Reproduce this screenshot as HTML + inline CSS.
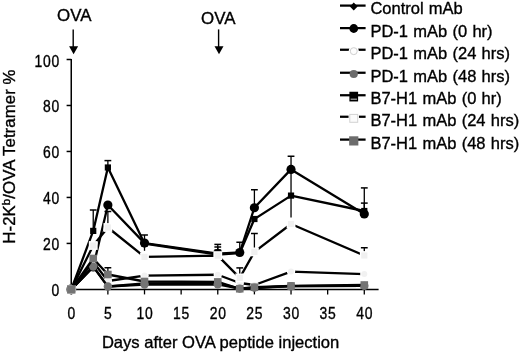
<!DOCTYPE html>
<html lang="en"><head><meta charset="utf-8"><title>H-2Kb/OVA Tetramer % after OVA peptide injection</title>
<style>html,body{margin:0;padding:0;background:#fff;}body{width:520px;height:355px;overflow:hidden;}svg{display:block;will-change:transform;}text{font-family:'Liberation Sans', sans-serif;fill:#000;stroke:#000;stroke-width:0.35px;}</style>
</head><body>
<svg width="520" height="355" viewBox="0 0 520 355" role="img" aria-label="Line chart of H-2Kb/OVA tetramer percent versus days after OVA peptide injection">
<rect x="0" y="0" width="520" height="355" fill="#ffffff"/>
<g id="axes" stroke="#000" stroke-width="1.5" fill="none">
<line x1="71.25" y1="58.9" x2="71.25" y2="290.15"/>
<line x1="70.50" y1="289.40" x2="378.6" y2="289.40"/>
<line x1="66.6" y1="289.40" x2="71.25" y2="289.40"/>
<line x1="66.6" y1="243.42" x2="71.25" y2="243.42"/>
<line x1="66.6" y1="197.44" x2="71.25" y2="197.44"/>
<line x1="66.6" y1="151.46" x2="71.25" y2="151.46"/>
<line x1="66.6" y1="105.48" x2="71.25" y2="105.48"/>
<line x1="66.6" y1="59.50" x2="71.25" y2="59.50"/>
<line x1="71.25" y1="289.40" x2="71.25" y2="294.4" stroke-width="1.3"/>
<line x1="107.88" y1="289.40" x2="107.88" y2="294.4" stroke-width="1.3"/>
<line x1="144.51" y1="289.40" x2="144.51" y2="294.4" stroke-width="1.3"/>
<line x1="181.14" y1="289.40" x2="181.14" y2="294.4" stroke-width="1.3"/>
<line x1="217.77" y1="289.40" x2="217.77" y2="294.4" stroke-width="1.3"/>
<line x1="254.40" y1="289.40" x2="254.40" y2="294.4" stroke-width="1.3"/>
<line x1="291.03" y1="289.40" x2="291.03" y2="294.4" stroke-width="1.3"/>
<line x1="327.66" y1="289.40" x2="327.66" y2="294.4" stroke-width="1.3"/>
<line x1="364.29" y1="289.40" x2="364.29" y2="294.4" stroke-width="1.3"/>
</g>
<g id="series">
<g class="s-ctrl">
<polyline fill="none" stroke="#000" stroke-width="2.30" stroke-linejoin="round" points="71.25,289.40 93.23,266.60 107.88,286.50 144.51,283.50 217.77,283.20 239.75,288.60 254.40,288.00 291.03,286.20 364.29,285.80"/>

<polygon points="71.25,285.50 75.15,289.40 71.25,293.30 67.35,289.40" fill="#000"/>
<polygon points="93.23,262.70 97.13,266.60 93.23,270.50 89.33,266.60" fill="#000"/>
<polygon points="107.88,282.60 111.78,286.50 107.88,290.40 103.98,286.50" fill="#000"/>
<polygon points="144.51,279.60 148.41,283.50 144.51,287.40 140.61,283.50" fill="#000"/>
<polygon points="217.77,279.30 221.67,283.20 217.77,287.10 213.87,283.20" fill="#000"/>
<polygon points="239.75,284.70 243.65,288.60 239.75,292.50 235.85,288.60" fill="#000"/>
<polygon points="254.40,284.10 258.30,288.00 254.40,291.90 250.50,288.00" fill="#000"/>
<polygon points="291.03,282.30 294.93,286.20 291.03,290.10 287.13,286.20" fill="#000"/>
<polygon points="364.29,281.90 368.19,285.80 364.29,289.70 360.39,285.80" fill="#000"/>
</g>
<g class="s-pd0">
<polyline fill="none" stroke="#000" stroke-width="2.30" stroke-linejoin="round" points="71.25,289.40 93.23,267.00 107.88,205.00 144.51,243.10 217.77,253.60 239.75,252.50 254.40,207.75 291.03,169.40 364.29,213.90"/>
<line x1="144.51" y1="235.00" x2="144.51" y2="250.80" stroke="#000" stroke-width="1.3"/><line x1="141.11" y1="235.00" x2="147.91" y2="235.00" stroke="#000" stroke-width="1.5"/><line x1="217.77" y1="247.00" x2="217.77" y2="253.60" stroke="#000" stroke-width="1.3"/><line x1="214.37" y1="247.00" x2="221.17" y2="247.00" stroke="#000" stroke-width="1.5"/><line x1="239.75" y1="242.25" x2="239.75" y2="252.50" stroke="#000" stroke-width="1.3"/><line x1="236.35" y1="242.25" x2="243.15" y2="242.25" stroke="#000" stroke-width="1.5"/><line x1="254.40" y1="189.75" x2="254.40" y2="207.75" stroke="#000" stroke-width="1.3"/><line x1="251.00" y1="189.75" x2="257.80" y2="189.75" stroke="#000" stroke-width="1.5"/><line x1="291.03" y1="156.25" x2="291.03" y2="169.40" stroke="#000" stroke-width="1.3"/><line x1="287.63" y1="156.25" x2="294.43" y2="156.25" stroke="#000" stroke-width="1.5"/><line x1="364.29" y1="187.90" x2="364.29" y2="213.90" stroke="#000" stroke-width="1.3"/><line x1="360.89" y1="187.90" x2="367.69" y2="187.90" stroke="#000" stroke-width="1.5"/>
<circle cx="71.25" cy="289.40" r="4.60" fill="#000"/>
<circle cx="93.23" cy="267.00" r="4.60" fill="#000"/>
<circle cx="107.88" cy="205.00" r="4.60" fill="#000"/>
<circle cx="144.51" cy="243.10" r="4.60" fill="#000"/>
<circle cx="217.77" cy="253.60" r="4.60" fill="#000"/>
<circle cx="239.75" cy="252.50" r="4.60" fill="#000"/>
<circle cx="254.40" cy="207.75" r="4.60" fill="#000"/>
<circle cx="291.03" cy="169.40" r="4.60" fill="#000"/>
<circle cx="364.29" cy="213.90" r="4.60" fill="#000"/>
</g>
<g class="s-pd24">
<polyline fill="none" stroke="#000" stroke-width="2.30" stroke-linejoin="round" points="71.25,289.40 93.23,262.00 107.88,281.00 144.51,275.60 217.77,274.75 239.75,283.00 254.40,285.00 291.03,271.60 364.29,274.10"/>

<circle cx="71.25" cy="289.40" r="4.20" fill="#fff"/><circle cx="71.25" cy="289.40" r="3.00" fill="#f1f1f1"/>
<circle cx="93.23" cy="262.00" r="4.20" fill="#fff"/><circle cx="93.23" cy="262.00" r="3.00" fill="#f1f1f1"/>
<circle cx="107.88" cy="281.00" r="4.20" fill="#fff"/><circle cx="107.88" cy="281.00" r="3.00" fill="#f1f1f1"/>
<circle cx="144.51" cy="275.60" r="4.20" fill="#fff"/><circle cx="144.51" cy="275.60" r="3.00" fill="#f1f1f1"/>
<circle cx="217.77" cy="274.75" r="4.20" fill="#fff"/><circle cx="217.77" cy="274.75" r="3.00" fill="#f1f1f1"/>
<circle cx="239.75" cy="283.00" r="4.20" fill="#fff"/><circle cx="239.75" cy="283.00" r="3.00" fill="#f1f1f1"/>
<circle cx="254.40" cy="285.00" r="4.20" fill="#fff"/><circle cx="254.40" cy="285.00" r="3.00" fill="#f1f1f1"/>
<circle cx="291.03" cy="271.60" r="4.20" fill="#fff"/><circle cx="291.03" cy="271.60" r="3.00" fill="#f1f1f1"/>
<circle cx="364.29" cy="274.10" r="4.20" fill="#fff"/><circle cx="364.29" cy="274.10" r="3.00" fill="#f1f1f1"/>
</g>
<g class="s-pd48">
<polyline fill="none" stroke="#000" stroke-width="2.30" stroke-linejoin="round" points="71.25,289.40 93.23,266.60 107.88,286.50 144.51,284.60 217.77,284.30 239.75,288.60 254.40,287.60 291.03,286.20 364.29,285.90"/>

<circle cx="71.25" cy="289.40" r="5.10" fill="#747474"/>
<circle cx="93.23" cy="266.60" r="4.20" fill="#747474"/>
<circle cx="107.88" cy="286.50" r="4.20" fill="#747474"/>
<circle cx="144.51" cy="284.60" r="4.20" fill="#747474"/>
<circle cx="217.77" cy="284.30" r="4.20" fill="#747474"/>
<circle cx="239.75" cy="288.60" r="4.20" fill="#747474"/>
<circle cx="254.40" cy="287.60" r="4.20" fill="#747474"/>
<circle cx="291.03" cy="286.20" r="4.20" fill="#747474"/>
<circle cx="364.29" cy="285.90" r="4.20" fill="#747474"/>
</g>
<g class="s-b0">
<polyline fill="none" stroke="#000" stroke-width="2.30" stroke-linejoin="round" points="71.25,289.40 93.23,230.90 107.88,167.50 144.51,243.60 217.77,254.50 239.75,253.00 254.40,219.00 291.03,195.60 364.29,211.00"/>
<line x1="93.23" y1="210.00" x2="93.23" y2="230.90" stroke="#000" stroke-width="1.3"/><line x1="89.83" y1="210.00" x2="96.63" y2="210.00" stroke="#000" stroke-width="1.5"/><line x1="107.88" y1="160.60" x2="107.88" y2="167.50" stroke="#000" stroke-width="1.3"/><line x1="104.48" y1="160.60" x2="111.28" y2="160.60" stroke="#000" stroke-width="1.5"/><line x1="217.77" y1="244.40" x2="217.77" y2="254.50" stroke="#000" stroke-width="1.3"/><line x1="214.37" y1="244.40" x2="221.17" y2="244.40" stroke="#000" stroke-width="1.5"/><line x1="291.03" y1="172.00" x2="291.03" y2="217.50" stroke="#000" stroke-width="1.3"/><line x1="287.63" y1="172.00" x2="294.43" y2="172.00" stroke="#000" stroke-width="1.5"/><line x1="364.29" y1="203.10" x2="364.29" y2="211.00" stroke="#000" stroke-width="1.3"/><line x1="360.89" y1="203.10" x2="367.69" y2="203.10" stroke="#000" stroke-width="1.5"/>
<rect x="68.15" y="286.30" width="6.20" height="6.20" fill="#000"/>
<rect x="90.13" y="227.80" width="6.20" height="6.20" fill="#000"/>
<rect x="104.78" y="164.40" width="6.20" height="6.20" fill="#000"/>
<rect x="141.41" y="240.50" width="6.20" height="6.20" fill="#000"/>
<rect x="214.67" y="251.40" width="6.20" height="6.20" fill="#000"/>
<rect x="236.65" y="249.90" width="6.20" height="6.20" fill="#000"/>
<rect x="251.30" y="215.90" width="6.20" height="6.20" fill="#000"/>
<rect x="287.93" y="192.50" width="6.20" height="6.20" fill="#000"/>
<rect x="361.19" y="207.90" width="6.20" height="6.20" fill="#000"/>
</g>
<g class="s-b24">
<polyline fill="none" stroke="#000" stroke-width="2.30" stroke-linejoin="round" points="71.25,289.40 93.23,245.50 107.88,227.50 144.51,256.90 217.77,255.60 239.75,277.90 254.40,251.90 291.03,224.00 364.29,255.50"/>
<line x1="107.88" y1="211.50" x2="107.88" y2="227.50" stroke="#000" stroke-width="1.3"/><line x1="104.48" y1="211.50" x2="111.28" y2="211.50" stroke="#000" stroke-width="1.5"/><line x1="217.77" y1="250.00" x2="217.77" y2="255.60" stroke="#000" stroke-width="1.3"/><line x1="214.37" y1="250.00" x2="221.17" y2="250.00" stroke="#000" stroke-width="1.5"/><line x1="239.75" y1="267.90" x2="239.75" y2="277.90" stroke="#000" stroke-width="1.3"/><line x1="236.35" y1="267.90" x2="243.15" y2="267.90" stroke="#000" stroke-width="1.5"/><line x1="254.40" y1="233.50" x2="254.40" y2="251.90" stroke="#000" stroke-width="1.3"/><line x1="251.00" y1="233.50" x2="257.80" y2="233.50" stroke="#000" stroke-width="1.5"/><line x1="364.29" y1="247.75" x2="364.29" y2="255.50" stroke="#000" stroke-width="1.3"/><line x1="360.89" y1="247.75" x2="367.69" y2="247.75" stroke="#000" stroke-width="1.5"/>
<rect x="66.85" y="285.00" width="8.80" height="8.80" fill="#fff"/><rect x="68.15" y="286.30" width="6.20" height="6.20" fill="#f0f0f0"/>
<rect x="88.83" y="241.10" width="8.80" height="8.80" fill="#fff"/><rect x="90.13" y="242.40" width="6.20" height="6.20" fill="#f0f0f0"/>
<rect x="103.48" y="223.10" width="8.80" height="8.80" fill="#fff"/><rect x="104.78" y="224.40" width="6.20" height="6.20" fill="#f0f0f0"/>
<rect x="140.11" y="252.50" width="8.80" height="8.80" fill="#fff"/><rect x="141.41" y="253.80" width="6.20" height="6.20" fill="#f0f0f0"/>
<rect x="213.37" y="251.20" width="8.80" height="8.80" fill="#fff"/><rect x="214.67" y="252.50" width="6.20" height="6.20" fill="#f0f0f0"/>
<rect x="235.35" y="273.50" width="8.80" height="8.80" fill="#fff"/><rect x="236.65" y="274.80" width="6.20" height="6.20" fill="#f0f0f0"/>
<rect x="250.00" y="247.50" width="8.80" height="8.80" fill="#fff"/><rect x="251.30" y="248.80" width="6.20" height="6.20" fill="#f0f0f0"/>
<rect x="286.63" y="219.60" width="8.80" height="8.80" fill="#fff"/><rect x="287.93" y="220.90" width="6.20" height="6.20" fill="#f0f0f0"/>
<rect x="359.89" y="251.10" width="8.80" height="8.80" fill="#fff"/><rect x="361.19" y="252.40" width="6.20" height="6.20" fill="#f0f0f0"/>
</g>
<g class="s-b48">
<polyline fill="none" stroke="#000" stroke-width="2.30" stroke-linejoin="round" points="71.25,289.40 93.23,258.50 107.88,274.50 144.51,281.50 217.77,281.90 239.75,288.75 254.40,287.25 291.03,285.90 364.29,285.00"/>
<line x1="107.88" y1="267.75" x2="107.88" y2="274.50" stroke="#000" stroke-width="1.3"/><line x1="104.48" y1="267.75" x2="111.28" y2="267.75" stroke="#000" stroke-width="1.5"/>
<rect x="67.05" y="285.20" width="8.40" height="8.40" fill="#747474"/>
<rect x="89.43" y="254.70" width="7.60" height="7.60" fill="#747474"/>
<rect x="104.08" y="270.70" width="7.60" height="7.60" fill="#747474"/>
<rect x="140.71" y="277.70" width="7.60" height="7.60" fill="#747474"/>
<rect x="213.97" y="278.10" width="7.60" height="7.60" fill="#747474"/>
<rect x="235.95" y="284.95" width="7.60" height="7.60" fill="#747474"/>
<rect x="250.60" y="283.45" width="7.60" height="7.60" fill="#747474"/>
<rect x="287.23" y="282.10" width="7.60" height="7.60" fill="#747474"/>
<rect x="360.49" y="281.20" width="7.60" height="7.60" fill="#747474"/>
</g>
</g>
<g id="ylabels">
<text transform="translate(60.00,296.40) scale(0.860,1)" font-size="16.2" letter-spacing="0.9" stroke-width="0.55" text-anchor="end">0</text>
<text transform="translate(60.00,250.42) scale(0.860,1)" font-size="16.2" letter-spacing="0.9" stroke-width="0.55" text-anchor="end">20</text>
<text transform="translate(60.00,204.44) scale(0.860,1)" font-size="16.2" letter-spacing="0.9" stroke-width="0.55" text-anchor="end">40</text>
<text transform="translate(60.00,158.46) scale(0.860,1)" font-size="16.2" letter-spacing="0.9" stroke-width="0.55" text-anchor="end">60</text>
<text transform="translate(60.00,112.48) scale(0.860,1)" font-size="16.2" letter-spacing="0.9" stroke-width="0.55" text-anchor="end">80</text>
<text transform="translate(60.00,66.50) scale(0.860,1)" font-size="16.2" letter-spacing="0.9" stroke-width="0.55" text-anchor="end">100</text>
</g><g id="xlabels">
<text transform="translate(71.65,318.80) scale(0.860,1)" font-size="16.2" letter-spacing="0.9" stroke-width="0.55" text-anchor="middle">0</text>
<text transform="translate(108.28,318.80) scale(0.860,1)" font-size="16.2" letter-spacing="0.9" stroke-width="0.55" text-anchor="middle">5</text>
<text transform="translate(144.91,318.80) scale(0.860,1)" font-size="16.2" letter-spacing="0.9" stroke-width="0.55" text-anchor="middle">10</text>
<text transform="translate(181.54,318.80) scale(0.860,1)" font-size="16.2" letter-spacing="0.9" stroke-width="0.55" text-anchor="middle">15</text>
<text transform="translate(218.17,318.80) scale(0.860,1)" font-size="16.2" letter-spacing="0.9" stroke-width="0.55" text-anchor="middle">20</text>
<text transform="translate(254.80,318.80) scale(0.860,1)" font-size="16.2" letter-spacing="0.9" stroke-width="0.55" text-anchor="middle">25</text>
<text transform="translate(291.43,318.80) scale(0.860,1)" font-size="16.2" letter-spacing="0.9" stroke-width="0.55" text-anchor="middle">30</text>
<text transform="translate(328.06,318.80) scale(0.860,1)" font-size="16.2" letter-spacing="0.9" stroke-width="0.55" text-anchor="middle">35</text>
<text transform="translate(364.69,318.80) scale(0.860,1)" font-size="16.2" letter-spacing="0.9" stroke-width="0.55" text-anchor="middle">40</text>
</g>
<text x="101.9" y="348.4" font-size="16.5" textLength="237.4" lengthAdjust="spacingAndGlyphs">Days after OVA peptide injection</text>
<text transform="translate(15,243.7) rotate(-90)" font-size="16.8" textLength="174.2" lengthAdjust="spacing">H-2K<tspan font-size="11.5" dy="-4.6">b</tspan><tspan dy="4.6">/OVA Tetramer %</tspan></text>
<text x="74.25" y="20.70" font-size="16.9" text-anchor="middle">OVA</text><line x1="73.20" y1="29.40" x2="73.20" y2="47" stroke="#000" stroke-width="1.4"/><polygon points="69.10,46.2 78.10,46.2 73.60,54.3" fill="#000"/>
<text x="218.30" y="23.90" font-size="16.9" text-anchor="middle">OVA</text><line x1="218.60" y1="29.40" x2="218.60" y2="47" stroke="#000" stroke-width="1.4"/><polygon points="214.50,46.2 223.50,46.2 219.00,54.3" fill="#000"/>
<g id="legend">
<line x1="340" y1="5.60" x2="365.6" y2="5.60" stroke="#000" stroke-width="2.25"/>
<polygon points="353.75,2.60 357.65,6.50 353.75,10.40 349.85,6.50" fill="#000"/>
<text x="370.4" y="13.80" font-size="16.5" word-spacing="0.7">Control mAb</text>
<line x1="340" y1="28.10" x2="365.6" y2="28.10" stroke="#000" stroke-width="2.25"/>
<circle cx="353.75" cy="28.50" r="4.40" fill="#000"/>
<text x="370.4" y="37.25" font-size="16.5" word-spacing="0.7">PD-1 mAb (0 hr)</text>
<line x1="340" y1="49.75" x2="365.6" y2="49.75" stroke="#000" stroke-width="2.25"/>
<circle cx="353.75" cy="50.85" r="5.00" fill="#fff"/><circle cx="353.75" cy="51.15" r="3.5" fill="#fdfdfd" stroke="#cfcfcf" stroke-width="1"/>
<text x="370.4" y="59.40" font-size="16.5" word-spacing="0.7">PD-1 mAb (24 hrs)</text>
<line x1="340" y1="72.75" x2="365.6" y2="72.75" stroke="#000" stroke-width="2.25"/>
<circle cx="353.75" cy="74.00" r="4.10" fill="#6c6c6c"/>
<text x="370.4" y="81.90" font-size="16.5" word-spacing="0.7">PD-1 mAb (48 hrs)</text>
<line x1="340" y1="95.25" x2="365.6" y2="95.25" stroke="#000" stroke-width="2.25"/>
<rect x="349.40" y="91.75" width="8.7" height="9.7" fill="#000"/><rect x="350.60" y="98.50" width="6.3" height="1.5" fill="#8a8a8a"/>
<text x="370.4" y="104.00" font-size="16.5" word-spacing="0.7">B7-H1 mAb (0 hr)</text>
<line x1="340" y1="116.75" x2="365.6" y2="116.75" stroke="#000" stroke-width="2.25"/>
<rect x="348.55" y="112.65" width="10.40" height="10.40" fill="#fff"/><rect x="349.80" y="114.40" width="7.9" height="7.9" fill="#fbfbfb" stroke="#d2d2d2" stroke-width="1"/>
<text x="370.4" y="126.40" font-size="16.5" word-spacing="0.7">B7-H1 mAb (24 hrs)</text>
<line x1="340" y1="139.60" x2="365.6" y2="139.60" stroke="#000" stroke-width="2.25"/>
<rect x="349.15" y="136.30" width="9.20" height="9.20" fill="#6c6c6c"/>
<text x="370.4" y="148.50" font-size="16.5" word-spacing="0.7">B7-H1 mAb (48 hrs)</text>
</g>
</svg>
</body></html>
